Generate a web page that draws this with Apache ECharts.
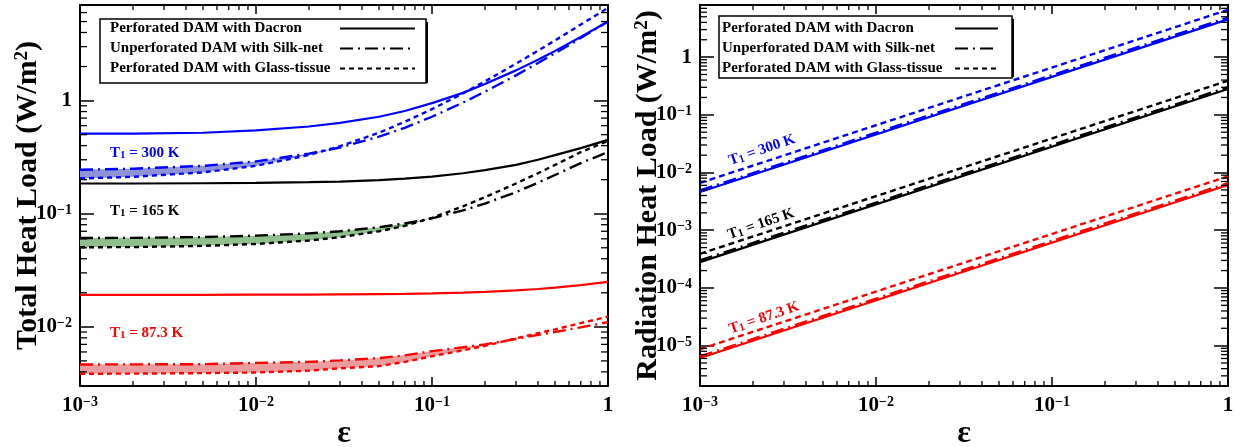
<!DOCTYPE html>
<html>
<head>
<meta charset="utf-8">
<script src="https://cdn.jsdelivr.net/npm/echarts@6/dist/echarts.min.js"></script>
<style>html,body{margin:0;padding:0;background:#fff}#c{width:1244px;height:447px}</style>
</head>
<body>
<div id="c"></div>
<script>
// ---------- data ----------
const eps = [0.001, 0.002, 0.005, 0.01, 0.02, 0.03, 0.05, 0.07, 0.1, 0.15, 0.2, 0.3, 0.4, 0.5, 0.7, 1];

// Total heat load (left panel)
const total300Dacron = [0.51, 0.51, 0.52, 0.545, 0.59, 0.635, 0.72, 0.81, 0.95, 1.17, 1.4, 1.85, 2.3, 2.75, 3.65, 5.0];
const total300Silk   = [0.245, 0.25, 0.265, 0.29, 0.34, 0.385, 0.48, 0.575, 0.72, 0.96, 1.2, 1.67, 2.15, 2.62, 3.57, 5.0];
const total300Glass  = [0.205, 0.212, 0.232, 0.265, 0.33, 0.395, 0.52, 0.65, 0.84, 1.16, 1.48, 2.12, 2.76, 3.4, 4.7, 6.6];

const total165Dacron = [0.185, 0.185, 0.186, 0.187, 0.19, 0.192, 0.198, 0.204, 0.213, 0.228, 0.243, 0.27, 0.3, 0.33, 0.38, 0.45];
const total165Silk   = [0.061, 0.0612, 0.0622, 0.064, 0.067, 0.07, 0.076, 0.082, 0.091, 0.107, 0.123, 0.155, 0.188, 0.22, 0.28, 0.35];
const total165Glass  = [0.0505, 0.0507, 0.052, 0.054, 0.058, 0.062, 0.07, 0.078, 0.092, 0.116, 0.14, 0.185, 0.228, 0.27, 0.35, 0.44];

const total87Dacron = [0.0192, 0.0192, 0.0192, 0.0193, 0.0193, 0.0194, 0.0195, 0.0196, 0.0198, 0.0201, 0.0204, 0.021, 0.0216, 0.0222, 0.0234, 0.025];
const total87Silk   = [0.00465, 0.00466, 0.00468, 0.0048, 0.0049, 0.00505, 0.0053, 0.0056, 0.0061, 0.0066, 0.007, 0.0078, 0.0085, 0.009, 0.0099, 0.011];
const total87Glass  = [0.00385, 0.00386, 0.0039, 0.00395, 0.0041, 0.0043, 0.0045, 0.0049, 0.0055, 0.0062, 0.0068, 0.0079, 0.0088, 0.0095, 0.0108, 0.0123];

// Radiation heat load (right panel), straight lines on log-log axes
const epsEnds = [0.001, 1];
const rad300Dacron = [0.0046, 4.5];
const rad300Silk   = [0.0048, 4.75];
const rad300Glass  = [0.0066, 6.6];
const rad165Dacron = [0.00028, 0.28];
const rad165Silk   = [0.000295, 0.295];
const rad165Glass  = [0.00039, 0.39];
const rad87Dacron  = [0.0000061, 0.0061];
const rad87Silk    = [0.0000064, 0.0064];
const rad87Glass   = [0.0000087, 0.0086];

const legendNames = ['Perforated DAM with Dacron', 'Unperforated DAM with Silk-net', 'Perforated DAM with Glass-tissue'];
const tempLabels = ['300 K', '165 K', '87.3 K'];

// ---------- styling ----------
const SERIF = "'Liberation Serif', 'DejaVu Serif', serif";
const BLUE = '#0000ff', BLACK = '#000000', RED = '#ff0000';
const DASHDOT = [13, 5, 2, 5];
const DASH = [5, 4];
const styles = [
  {type: 'solid', width: 2.2},
  {type: DASHDOT, width: 2.4},
  {type: DASH, width: 2.4}
];

function powLabel(v) {
  const l = Math.log10(v);
  const e = Math.round(l);
  if (Math.abs(l - e) > 1e-6) return '';
  if (e === 0) return '{b|1}';
  return '{b|10}{s|' + (e < 0 ? '\u2212' : '') + Math.abs(e) + '}';
}
const labelRich = {
  b: {fontFamily: SERIF, fontWeight: 'bold', fontSize: 21, color: '#000'},
  s: {fontFamily: SERIF, fontWeight: 'bold', fontSize: 14, color: '#000', verticalAlign: 'top'}
};
const nameRich = {
  a: {fontFamily: SERIF, fontWeight: 'bold', fontSize: 30, color: '#000'},
  s: {fontFamily: SERIF, fontWeight: 'bold', fontSize: 19, color: '#000', verticalAlign: 'top'}
};

function minorList(lo, hi) {
  const out = [];
  for (let d = -7; d <= 1; d++) {
    for (let k = 2; k <= 9; k++) {
      const v = +(k * Math.pow(10, d)).toPrecision(6);
      if (v > lo * 1.0001 && v < hi * 0.9999) out.push(v);
    }
  }
  return out;
}

const grids = [
  {xMin: 0.001, xMax: 1, yMin: 0.003, yMax: 7, yName: 'Total Heat Load (W/m'},
  {xMin: 0.001, xMax: 1, yMin: 0.000002, yMax: 8, yName: 'Radiation Heat Load (W/m'}
];

const xAxis = [], yAxis = [];
grids.forEach((g, gi) => {
  const axLine = {show: true, onZero: false, lineStyle: {color: '#000', width: 2}};
  const tickX = {show: true, inside: true, length: 9, lineStyle: {color: '#000', width: 1.5}};
  const tickY = {show: true, inside: true, length: 14, lineStyle: {color: '#000', width: 1.5}};
  xAxis.push({
    type: 'log', logBase: 10, gridIndex: gi, min: g.xMin, max: g.xMax, position: 'bottom',
    axisLine: axLine, splitLine: {show: false}, axisTick: tickX,
    axisLabel: {formatter: powLabel, margin: 9, rich: labelRich},
    name: '\u03b5', nameLocation: 'middle', nameGap: 32, nameMoveOverlap: false,
    nameTextStyle: {fontFamily: SERIF, fontWeight: 'bold', fontSize: 32, color: '#000'}
  });
  xAxis.push({
    type: 'log', logBase: 10, gridIndex: gi, min: g.xMin, max: g.xMax, position: 'top',
    axisLine: axLine, splitLine: {show: false}, axisTick: tickX,
    axisLabel: {show: false}
  });
  yAxis.push({
    type: 'log', logBase: 10, gridIndex: gi, min: g.yMin, max: g.yMax, position: 'left',
    axisLine: axLine, splitLine: {show: false}, axisTick: tickY,
    axisLabel: {formatter: powLabel, margin: 8, rich: labelRich},
    name: '{a|' + g.yName + '}{s|2}{a|)}', nameLocation: 'middle', nameGap: 37, nameRotate: 90,
    nameMoveOverlap: false,
    nameTextStyle: {rich: nameRich}
  });
  yAxis.push({
    type: 'log', logBase: 10, gridIndex: gi, min: g.yMin, max: g.yMax, position: 'right',
    axisLine: axLine, splitLine: {show: false}, axisTick: tickY,
    axisLabel: {show: false}
  });
});

const series = [];
// legend-only series (black samples)
legendNames.forEach((n, i) => {
  series.push({
    name: n, type: 'line', xAxisIndex: 0, yAxisIndex: 0, data: [], symbol: 'none',
    color: '#000', itemStyle: {opacity: 0},
    lineStyle: {color: '#000', width: 2, type: styles[i].type}
  });
});

// shaded bands between Silk-net and Glass-tissue (left panel)
function band(upper, lower, fill) {
  return {
    type: 'custom', xAxisIndex: 0, yAxisIndex: 0, silent: true, z: 1,
    data: eps.map((e, i) => [e, upper[i], Math.min(upper[i], lower[i])]),
    encode: {x: 0, y: 1},
    renderItem: function (params, api) {
      if (params.dataIndex !== 0) return null;
      const n = eps.length;
      const pts = [];
      for (let i = 0; i < n; i++) pts.push(api.coord([eps[i], upper[i]]));
      for (let i = n - 1; i >= 0; i--) pts.push(api.coord([eps[i], Math.min(upper[i], lower[i])]));
      return {type: 'polygon', shape: {points: pts}, style: {fill: fill}};
    }
  };
}
series.push(band(total300Silk, total300Glass, '#8e93d8'));
series.push(band(total165Silk, total165Glass, '#8fc08c'));
series.push(band(total87Silk, total87Glass, '#eb9d9d'));

function lineSeries(name, gi, xs, ys, color, st) {
  return {
    name: name, type: 'line', xAxisIndex: gi * 2, yAxisIndex: gi * 2, symbol: 'none', z: 3,
    data: xs.map((x, i) => [x, ys[i]]), color: color,
    lineStyle: {color: color, width: st.width, type: st.type}
  };
}
const leftSets = [
  [BLUE, [total300Dacron, total300Silk, total300Glass]],
  [BLACK, [total165Dacron, total165Silk, total165Glass]],
  [RED, [total87Dacron, total87Silk, total87Glass]]
];
leftSets.forEach(([c, arrs], ti) => {
  arrs.forEach((a, k) => series.push(lineSeries('L' + ti + k, 0, eps, a, c, styles[k])));
});
const rightSets = [
  [BLUE, [rad300Dacron, rad300Silk, rad300Glass]],
  [BLACK, [rad165Dacron, rad165Silk, rad165Glass]],
  [RED, [rad87Dacron, rad87Silk, rad87Glass]]
];
const rightStyles = [
  {type: 'solid', width: 2.2},
  {type: DASHDOT, width: 3.4},
  {type: [6, 4], width: 2.4}
];
rightSets.forEach(([c, arrs], ti) => {
  arrs.forEach((a, k) => series.push(lineSeries('R' + ti + k, 1, epsEnds, a, c, rightStyles[k])));
});

// minor ticks (2..9 within each decade) on all four sides
grids.forEach((g, gi) => {
  const data = minorList(g.xMin, g.xMax).map(v => [v, g.yMin, 0])
    .concat(minorList(g.yMin, g.yMax).map(v => [g.xMin, v, 1]));
  series.push({
    type: 'custom', xAxisIndex: gi * 2, yAxisIndex: gi * 2, silent: true, z: 5,
    data: data, encode: {x: 0, y: 1},
    renderItem: function (params, api) {
      const cs = params.coordSys;
      const p = api.coord([api.value(0), api.value(1)]);
      if (api.value(2) === 0) {
        const b = cs.y + cs.height, t = cs.y;
        return {type: 'group', children: [
          {type: 'line', shape: {x1: p[0], y1: b, x2: p[0], y2: b - 5}, style: {stroke: '#000', lineWidth: 1.3}},
          {type: 'line', shape: {x1: p[0], y1: t, x2: p[0], y2: t + 5}, style: {stroke: '#000', lineWidth: 1.3}}
        ]};
      }
      const l = cs.x, r = cs.x + cs.width;
      return {type: 'group', children: [
        {type: 'line', shape: {x1: l, y1: p[1], x2: l + 7, y2: p[1]}, style: {stroke: '#000', lineWidth: 1.3}},
        {type: 'line', shape: {x1: r, y1: p[1], x2: r - 7, y2: p[1]}, style: {stroke: '#000', lineWidth: 1.3}}
      ]};
    }
  });
});

function legendCfg(left, top, textW, iconW, padding) {
  return {
    orient: 'vertical', left: left, top: top, align: 'right', z: 6,
    data: legendNames, itemWidth: iconW, itemHeight: 14, itemGap: 5,
    padding: padding, selectedMode: false,
    backgroundColor: '#fff', borderColor: '#000', borderWidth: 1.5, borderRadius: 0,
    itemStyle: {opacity: 0},
    formatter: n => '{t|' + n + '}',
    textStyle: {rich: {t: {width: textW, align: 'left', lineHeight: 14, fontFamily: SERIF, fontWeight: 'bold', fontSize: 15, color: '#000'}}}
  };
}

function tLabel(x, y, t, color, rot) {
  return {
    type: 'text', x: x, y: y, rotation: rot || 0, z: 10,
    style: {
      text: '{a|T}{s|1}{a| = ' + t + '}',
      align: rot ? 'center' : 'left', verticalAlign: 'middle', fill: color,
      rich: {
        a: {fontFamily: SERIF, fontWeight: 'bold', fontSize: 15, fill: color},
        s: {fontFamily: SERIF, fontWeight: 'bold', fontSize: 11, fill: color, verticalAlign: 'bottom'}
      }
    }
  };
}
const ROT = 19 * Math.PI / 180;

const option = {
  animation: false,
  backgroundColor: '#fff',
  grid: [
    {left: 80, top: 5, width: 528, height: 381, containLabel: false, outerBoundsMode: 'none'},
    {left: 700, top: 5, width: 528, height: 381, containLabel: false, outerBoundsMode: 'none'}
  ],
  xAxis: xAxis,
  yAxis: yAxis,
  legend: [
    legendCfg(100, 19, 225, 75, [2, 10, 7, 10]),
    legendCfg(719, 16, 228, 43, [5, 13, 2, 3])
  ],
  graphic: [
    {type: 'rect', x: 103, y: 22, z: 5, shape: {width: 325, height: 61}, style: {fill: '#000'}},
    {type: 'rect', x: 722, y: 19, z: 5, shape: {width: 292, height: 58}, style: {fill: '#000'}},
    tLabel(110, 153, tempLabels[0], BLUE),
    tLabel(110, 211, tempLabels[1], BLACK),
    tLabel(110, 333, tempLabels[2], RED),
    tLabel(762, 150, tempLabels[0], BLUE, ROT),
    tLabel(761, 224, tempLabels[1], BLACK, ROT),
    tLabel(764, 318, tempLabels[2], RED, ROT)
  ],
  series: series
};

const chart = echarts.init(document.getElementById('c'), null, {renderer: 'canvas'});
chart.setOption(option);
</script>
</body>
</html>
